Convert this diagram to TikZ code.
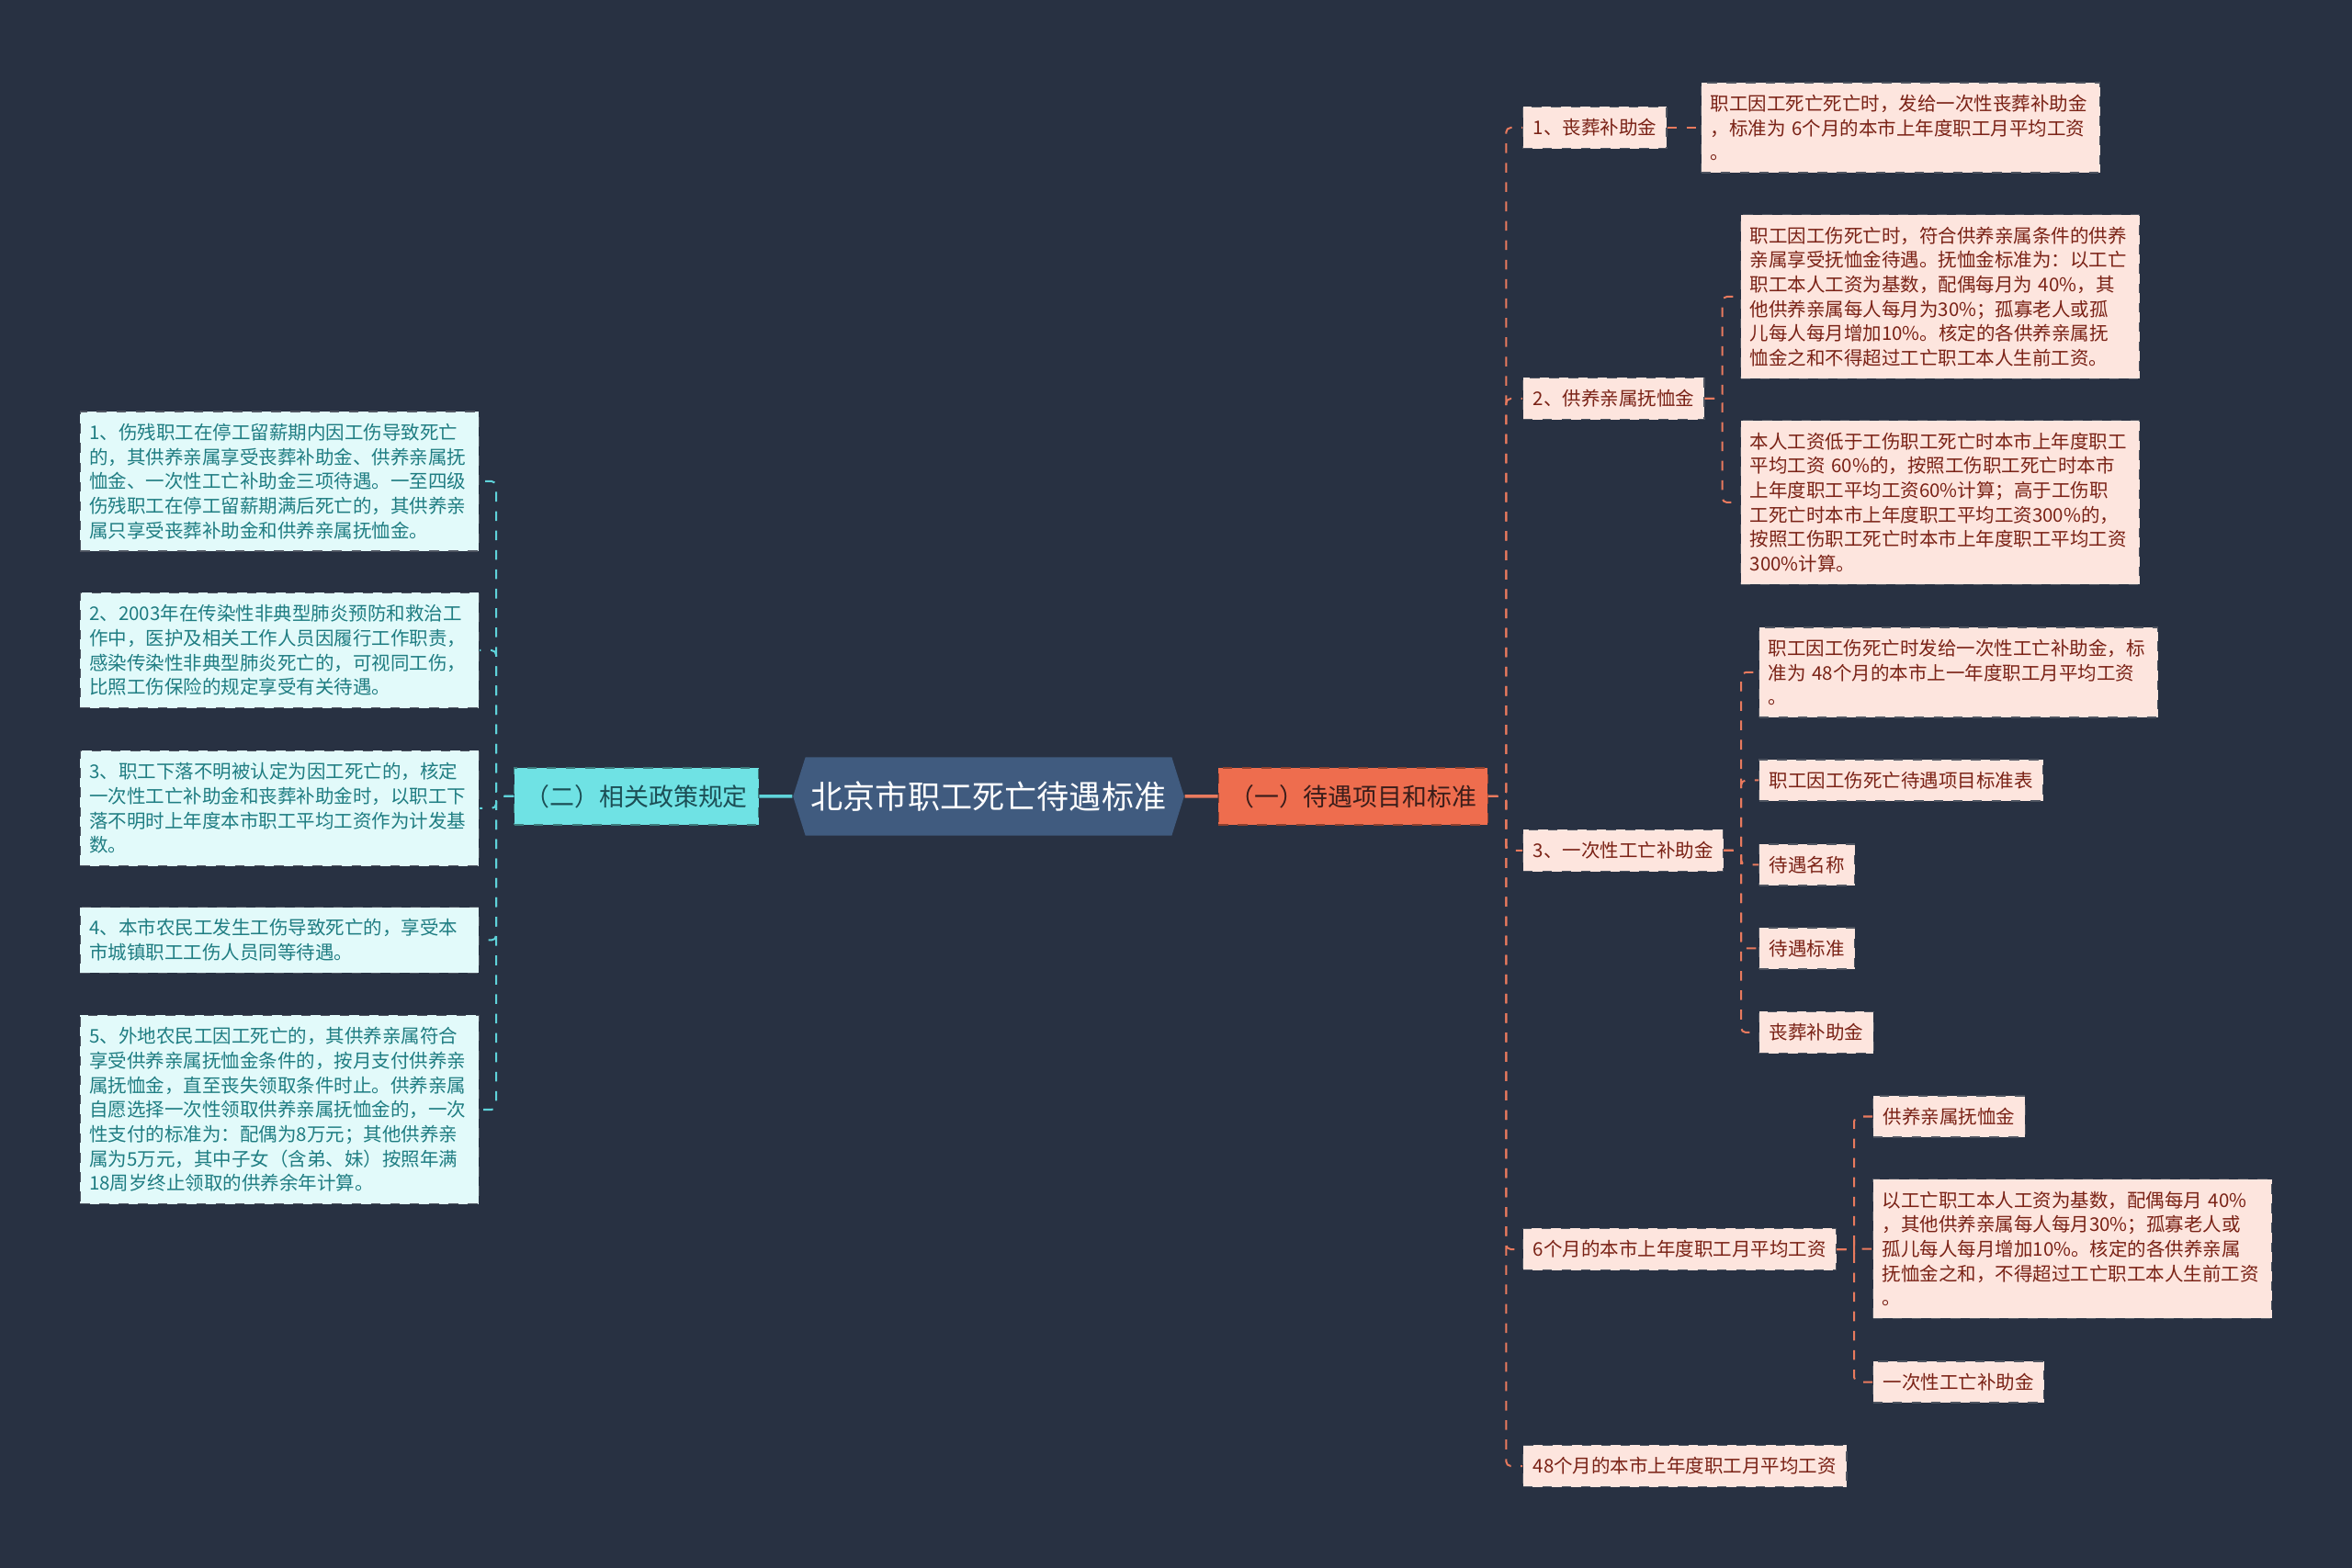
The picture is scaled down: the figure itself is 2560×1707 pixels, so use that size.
\documentclass[tikz,border=0pt]{standalone}
\usepackage{fontspec}
\setmainfont{Noto Sans CJK SC}
\usepackage{tikz}
\usetikzlibrary{positioning, shapes.symbols}

\definecolor{bgnavy}{HTML}{283142}
\definecolor{rootblue}{HTML}{405B7F}
\definecolor{coral}{HTML}{EE6D4E}
\definecolor{coralline}{HTML}{E97A5E}
\definecolor{coraltext}{HTML}{3A1D1A}
\definecolor{peach}{HTML}{FDE5DE}
\definecolor{peachtext}{HTML}{7A2216}
\definecolor{aqua}{HTML}{6FE2E4}
\definecolor{aqualine}{HTML}{5FD3DA}
\definecolor{aquatext}{HTML}{1C4E55}
\definecolor{mint}{HTML}{E2FAFA}
\definecolor{minttext}{HTML}{1F7D82}
\definecolor{boxedge}{HTML}{4E5460}

\begin{document}
\begin{tikzpicture}[x=0.01cm, y=-0.01cm,
        root/.style={signal, signal to=east and west, signal pointer angle=145, fill=rootblue, text=white, minimum height=8.5mm, inner xsep=0.6mm, font=\fontsize{10pt}{12pt}\selectfont},
        topic/.style={rectangle, draw, dashed, line width=0.12mm, minimum height=6.2mm, inner xsep=1.2mm, font=\fontsize{7.65pt}{9pt}\selectfont},
        item/.style={rectangle, draw=boxedge, dashed, line width=0.12mm, inner xsep=1.1mm, inner ysep=1.3mm, font=\fontsize{5.83pt}{7.6pt}\selectfont},
        note/.style={item, text width=41.4mm, inner xsep=1mm, align=left},
        rbox/.style={fill=peach, text=peachtext},
        lbox/.style={fill=mint, text=minttext},
        rlink/.style={draw=coralline, dashed, line width=0.2mm, rounded corners=0.5mm},
        llink/.style={draw=aqualine, dashed, line width=0.2mm, rounded corners=0.5mm}
    ]
        \fill[bgnavy] (0,0) rectangle (2560,1707);
        \useasboundingbox (0,0) rectangle (2560,1707);

        \node[root] (root) at (1076,867) {北京市职工死亡待遇标准};
        \node[topic, fill=coral, draw=coral!60!black, text=coraltext, right=3.6mm of root] (benefit) {（一）待遇项目和标准};
        \node[topic, fill=aqua, draw=aqua!55!black, text=aquatext, left=3.6mm of root] (policy) {（二）相关政策规定};

        \draw[coralline, line width=0.35mm] (root) -- (benefit);
        \draw[aqualine, line width=0.35mm] (root) -- (policy);

        % right branch
        \node[item, rbox, anchor=west] (funeral) at (1657,139) {1、丧葬补助金};
        \node[item, rbox, anchor=west] (pension) at (1657,434) {2、供养亲属抚恤金};
        \node[item, rbox, anchor=west] (lumpsum) at (1657,926) {3、一次性工亡补助金};
        \node[item, rbox, anchor=west] (sixmonth) at (1657,1360) {6个月的本市上年度职工月平均工资};
        \node[item, rbox, anchor=west] (fortyeight) at (1657,1596) {48个月的本市上年度职工月平均工资};

        \node[note, rbox, anchor=west] (funeralnote) at (1851,139) {职工因工死亡死亡时，发给一次性丧葬补助金\\，标准为 6个月的本市上年度职工月平均工资\\。};

        \node[note, rbox, anchor=west] (pensionrate) at (1894,323) {职工因工伤死亡时，符合供养亲属条件的供养\\亲属享受抚恤金待遇。抚恤金标准为：以工亡\\职工本人工资为基数，配偶每月为 40\%，其\\他供养亲属每人每月为30\%；孤寡老人或孤\\儿每人每月增加10\%。核定的各供养亲属抚\\恤金之和不得超过工亡职工本人生前工资。};
        \node[note, rbox, anchor=west] (pensionbase) at (1894,547) {本人工资低于工伤职工死亡时本市上年度职工\\平均工资 60\%的，按照工伤职工死亡时本市\\上年度职工平均工资60\%计算；高于工伤职\\工死亡时本市上年度职工平均工资300\%的，\\按照工伤职工死亡时本市上年度职工平均工资\\300\%计算。};

        \node[note, rbox, anchor=west] (lumpnote) at (1914,732) {职工因工伤死亡时发给一次性工亡补助金，标\\准为 48个月的本市上一年度职工月平均工资\\。};
        \node[item, rbox, anchor=west] (table) at (1914,849.5) {职工因工伤死亡待遇项目标准表};
        \node[item, rbox, anchor=west] (colname) at (1914,941.5) {待遇名称};
        \node[item, rbox, anchor=west] (colrate) at (1914,1032.5) {待遇标准};
        \node[item, rbox, anchor=west] (rowfuneral) at (1914,1124) {丧葬补助金};

        \node[item, rbox, anchor=west] (rowpension) at (2038,1215.5) {供养亲属抚恤金};
        \node[note, rbox, anchor=west] (rownote) at (2038,1359.5) {以工亡职工本人工资为基数，配偶每月 40\%\\，其他供养亲属每人每月30\%；孤寡老人或\\孤儿每人每月增加10\%。核定的各供养亲属\\抚恤金之和，不得超过工亡职工本人生前工资\\。};
        \node[item, rbox, anchor=west] (rowlump) at (2038,1504.5) {一次性工亡补助金};

        \foreach \c in {funeral, pension, lumpsum, sixmonth, fortyeight}
            \draw[rlink] (benefit.east) -- ++(19.5,0) |- (\c.west);
        \draw[rlink] (funeral.east) -- (funeralnote.west);
        \foreach \c in {pensionrate, pensionbase}
            \draw[rlink] (pension.east) -- ++(19,0) |- (\c.west);
        \foreach \c in {lumpnote, table, colname, colrate, rowfuneral}
            \draw[rlink] (lumpsum.east) -- ++(19,0) |- (\c.west);
        \foreach \c in {rowpension, rownote, rowlump}
            \draw[rlink] (sixmonth.east) -- ++(19,0) |- (\c.west);

        % left branch
        \node[note, lbox, anchor=east] (injured) at (522,524) {1、伤残职工在停工留薪期内因工伤导致死亡\\的，其供养亲属享受丧葬补助金、供养亲属抚\\恤金、一次性工亡补助金三项待遇。一至四级\\伤残职工在停工留薪期满后死亡的，其供养亲\\属只享受丧葬补助金和供养亲属抚恤金。};
        \node[note, lbox, anchor=east] (sars) at (522,708) {2、2003年在传染性非典型肺炎预防和救治工\\作中，医护及相关工作人员因履行工作职责，\\感染传染性非典型肺炎死亡的，可视同工伤，\\比照工伤保险的规定享受有关待遇。};
        \node[note, lbox, anchor=east] (missing) at (522,880) {3、职工下落不明被认定为因工死亡的，核定\\一次性工亡补助金和丧葬补助金时，以职工下\\落不明时上年度本市职工平均工资作为计发基\\数。};
        \node[note, lbox, anchor=east] (localworker) at (522,1023.5) {4、本市农民工发生工伤导致死亡的，享受本\\市城镇职工工伤人员同等待遇。};
        \node[note, lbox, anchor=east] (migrant) at (522,1208) {5、外地农民工因工死亡的，其供养亲属符合\\享受供养亲属抚恤金条件的，按月支付供养亲\\属抚恤金，直至丧失领取条件时止。供养亲属\\自愿选择一次性领取供养亲属抚恤金的，一次\\性支付的标准为：配偶为8万元；其他供养亲\\属为5万元，其中子女（含弟、妹）按照年满\\18周岁终止领取的供养余年计算。};

        \foreach \c in {injured, sars, missing, localworker, migrant}
            \draw[llink] (policy.west) -- ++(-19,0) |- (\c.east);
    \end{tikzpicture}
\end{document}
